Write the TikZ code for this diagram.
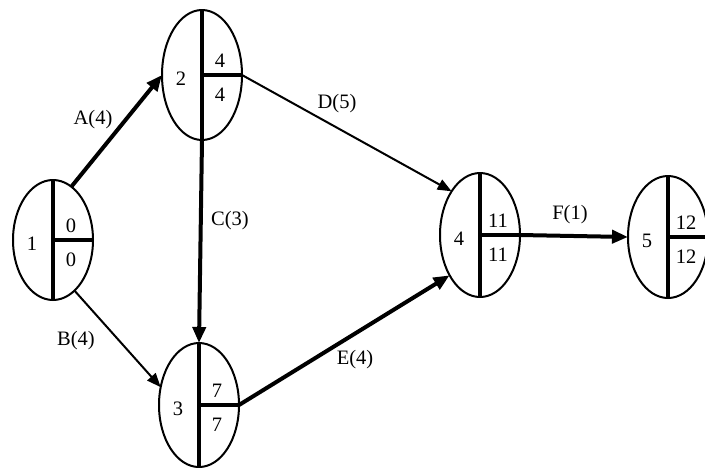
\documentclass[tikz,border=0pt]{standalone}
\usepackage{fontspec}
\setmainfont{Liberation Serif}
\usetikzlibrary{shapes.geometric,arrows.meta}
\tikzset{
  evt/.style={ellipse,draw,line width=2pt,inner sep=0pt,outer sep=0pt,minimum width=80pt},
  div/.style={line width=4.5pt},
  lbl/.style={inner sep=0pt,font=\fontsize{20.5}{22}\selectfont},
  crit/.style={line width=4pt,-{Triangle[length=16pt,width=13pt]}},
  norm/.style={line width=2pt,-{Triangle[length=14pt,width=11pt]}},
}
\newcommand{\evtnode}[6]{%
  \node[evt,minimum height=#3] (#1) at (#2) {};
  \draw[div] (#1.north) -- (#1.south);
  \draw[div] (#1.center) -- (#1.east);
  \node[lbl] (#1l) at ([shift={(-21,4)}]#1.center) {#4};
  \node[lbl] (#1t) at ([shift={(18,-14)}]#1.center) {#5};
  \node[lbl] (#1b) at ([shift={(18,20)}]#1.center) {#6};
}
\begin{document}
\begin{tikzpicture}[x=1pt,y=-1pt]
\useasboundingbox (0,0) rectangle (705,467);
\evtnode{n1}{53,240}{120pt}{1}{0}{0}
\evtnode{n2}{202,75}{130pt}{2}{4}{4}
\evtnode{n3}{199,405}{124pt}{3}{7}{7}
\evtnode{n4}{480,235}{124pt}{4}{11}{11}
\evtnode{n5}{668,237}{122pt}{5}{12}{12}
\draw[crit] (n1.71) -- (n2.west);
\draw[norm] (n1.-67) -- (n3.155);
\draw[crit] (n2.south) -- (n3.north);
\draw[norm] (n2.east) -- (n4.123);
\draw[crit] (n3.east) -- (n4.233);
\draw[crit] (n4.east) -- (n5.west);
\node[lbl] (la) at (93,120) {A(4)};
\node[lbl] (lb) at (76,341) {B(4)};
\node[lbl] (lc) at (230,221) {C(3)};
\node[lbl] (ld) at (337,104) {D(5)};
\node[lbl] (le) at (355,360) {E(4)};
\node[lbl] (lf) at (570,215) {F(1)};
\end{tikzpicture}
\end{document}
